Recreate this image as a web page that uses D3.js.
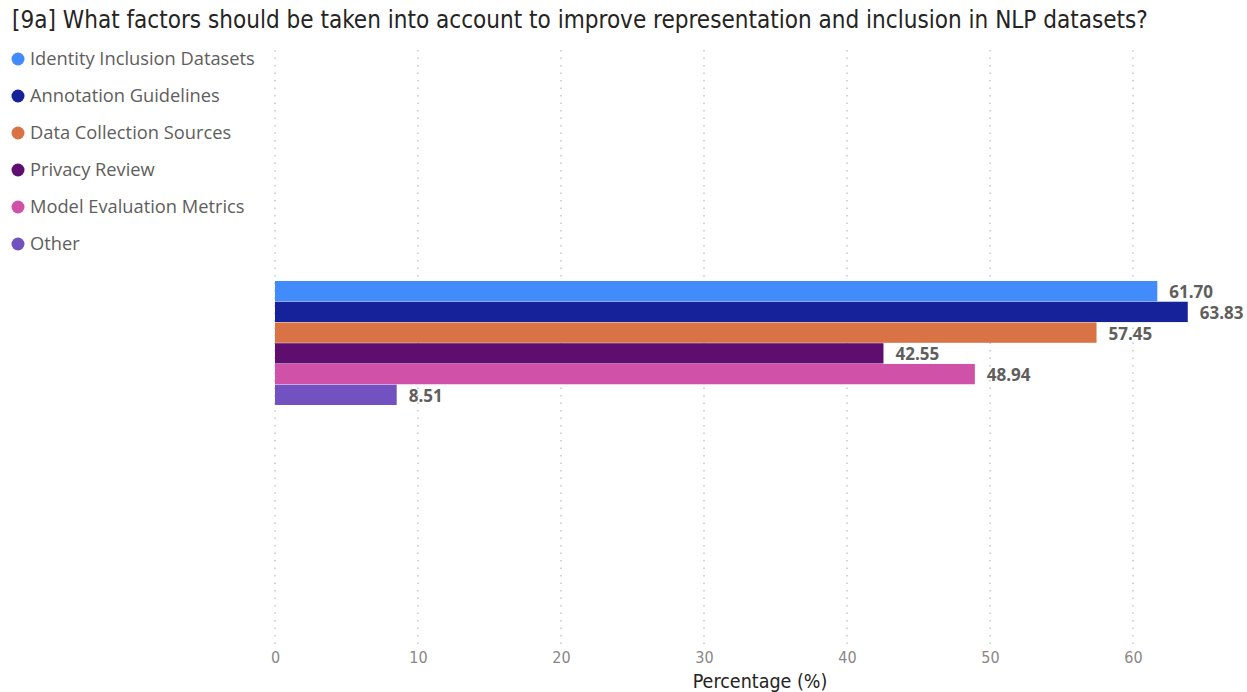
<!DOCTYPE html>
<html>
<head>
<meta charset="utf-8">
<script src="https://cdn.jsdelivr.net/npm/d3@7"></script>
<style>
  html, body { margin: 0; padding: 0; background: #fff; }
  svg { display: block; }
</style>
</head>
<body>
<svg id="chart" width="1247" height="692"></svg>
<script>
// Survey question and answer options
const titleText = "[9a] What factors should be taken into account to improve representation and inclusion in NLP datasets?";
const categories = [
  "Identity Inclusion Datasets",
  "Annotation Guidelines",
  "Data Collection Sources",
  "Privacy Review",
  "Model Evaluation Metrics",
  "Other"
];
const values = [61.70, 63.83, 57.45, 42.55, 48.94, 8.51];
const colors = ["#418BFA", "#15229A", "#D97245", "#5F0E70", "#D052A8", "#7152C0"];
const xTicks = [0, 10, 20, 30, 40, 50, 60];
const xAxisTitle = "Percentage (%)";

const svg = d3.select("#chart");

const x = d3.scaleLinear().domain([0, 68]).range([275, 275 + 68 * 14.3]);
const yGroup = d3.scaleBand().domain(categories).range([281, 405]).paddingInner(0.02);
const gridTop = 50, gridBottom = 646;

// Title, fitted to its width
const title = svg.append("text")
  .attr("x", 12).attr("y", 28)
  .attr("fill", "#252423")
  .style("font-family", "'DejaVu Sans Condensed', 'Roboto', sans-serif")
  .style("font-size", "20px")
  .text(titleText);
const tw = title.node().getComputedTextLength();
title.style("font-size", (20 * 1136 / tw) + "px");

// Vertical dotted gridlines
svg.append("g").selectAll("line").data(xTicks).join("line")
  .attr("x1", d => x(d)).attr("x2", d => x(d))
  .attr("y1", gridTop).attr("y2", gridBottom)
  .attr("stroke", "#C8C6C4")
  .attr("stroke-width", 1.5)
  .attr("stroke-dasharray", "1.5,6");

// Tick labels
const axis = d3.axisBottom(x).tickValues(xTicks).tickSize(0).tickPadding(0);
const axisG = svg.append("g").attr("transform", `translate(0,${gridBottom + 6})`).call(axis);
axisG.select(".domain").remove();
axisG.selectAll("text")
  .attr("dy", "0.71em")
  .attr("fill", "#8a8886")
  .style("font-family", "'DejaVu Sans Condensed', 'Roboto', sans-serif")
  .style("font-size", "16px")
  .style("font-weight", "300");

// Axis title
svg.append("text")
  .attr("x", 760).attr("y", 688)
  .attr("text-anchor", "middle")
  .attr("fill", "#252423")
  .style("font-family", "'DejaVu Sans Condensed', 'Roboto', sans-serif")
  .style("font-size", "19.5px")
  .text(xAxisTitle);

// Bars
svg.append("g").selectAll("rect").data(categories).join("rect")
  .attr("x", x(0))
  .attr("y", d => yGroup(d))
  .attr("width", (d, i) => x(values[i]) - x(0))
  .attr("height", yGroup.bandwidth())
  .attr("fill", (d, i) => colors[i]);

// Value labels
svg.append("g").selectAll("text").data(categories).join("text")
  .attr("x", (d, i) => x(values[i]) + 12)
  .attr("y", d => yGroup(d) + yGroup.bandwidth() / 2 + 1)
  .attr("dy", "0.35em")
  .attr("fill", "#605E5C")
  .style("font-family", "'Open Sans', 'Noto Sans', sans-serif")
  .style("font-size", "17px")
  .style("font-weight", "700")
  .text((d, i) => values[i].toFixed(2));

// Legend
const legend = svg.append("g").selectAll("g").data(categories).join("g")
  .attr("transform", (d, i) => `translate(0,${59 + i * 37})`);
legend.append("circle")
  .attr("cx", 18).attr("cy", 0).attr("r", 6.5)
  .attr("fill", (d, i) => colors[i]);
legend.append("text")
  .attr("x", 30).attr("y", 0).attr("dy", "0.35em")
  .attr("fill", "#605E5C")
  .style("font-family", "'Open Sans', 'Noto Sans', sans-serif")
  .style("font-size", "18.3px")
  .text(d => d);
</script>
</body>
</html>
